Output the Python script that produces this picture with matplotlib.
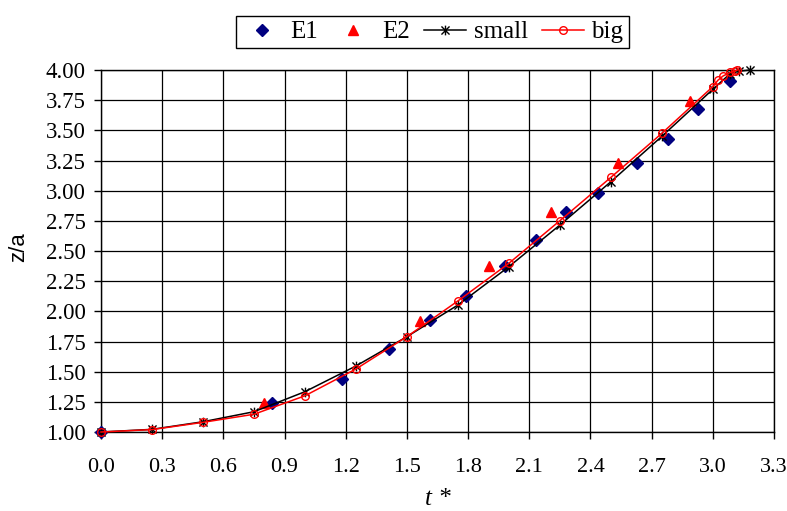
import matplotlib
matplotlib.use("Agg")
import matplotlib.pyplot as plt
from matplotlib.path import Path

# ---- data ----
e1_t = [0.0, 0.84, 1.18, 1.41, 1.613, 1.79, 1.98, 2.132, 2.28, 2.435, 2.626, 2.778, 2.928, 3.083]
e1_z = [1.0, 1.243, 1.44, 1.688, 1.928, 2.13, 2.378, 2.591, 2.826, 2.983, 3.232, 3.425, 3.677, 3.906]

e2_t = [0.80, 1.564, 1.904, 2.206, 2.533, 2.887]
e2_z = [1.237, 1.922, 2.376, 2.82, 3.227, 3.745]

small_t = [0.0, 0.25, 0.5, 0.75, 1.0, 1.25, 1.5, 1.75, 2.0, 2.25, 2.5, 2.75, 3.0, 3.085, 3.13, 3.18]
small_z = [1.0, 1.022, 1.085, 1.168, 1.334, 1.547, 1.79, 2.052, 2.37, 2.715, 3.074, 3.45, 3.84, 3.97, 3.99, 4.0]

big_t = [0.0, 0.25, 0.5, 0.75, 1.0, 1.25, 1.5, 1.75, 2.0, 2.25, 2.5, 2.75, 3.0, 3.025, 3.05, 3.085, 3.107, 3.12]
big_z = [1.0, 1.02, 1.08, 1.147, 1.30, 1.522, 1.79, 2.086, 2.398, 2.751, 3.11, 3.475, 3.862, 3.915, 3.95, 3.98, 3.99, 4.0]

xticks = [0.0, 0.3, 0.6, 0.9, 1.2, 1.5, 1.8, 2.1, 2.4, 2.7, 3.0, 3.3]
yticks = [1.00, 1.25, 1.50, 1.75, 2.00, 2.25, 2.50, 2.75, 3.00, 3.25, 3.50, 3.75, 4.00]

serif = "Liberation Serif"

star = Path([(-1, -1), (1, 1), (-1, 1), (1, -1), (0, -1.2), (0, 1.2)],
            [Path.MOVETO, Path.LINETO, Path.MOVETO, Path.LINETO, Path.MOVETO, Path.LINETO])

fig = plt.figure(figsize=(7.87, 5.11), dpi=100)
ax = fig.add_axes([101/787, 79/511, 673/787, 362/511])

ax.plot(e1_t, e1_z, linestyle="none", marker="D", color="#000080", markersize=6.5,
        label="E1", clip_on=False, zorder=3)
ax.plot(e2_t, e2_z, linestyle="none", marker="^", color="#ff0000", markersize=7,
        label="E2", clip_on=False, zorder=3)
ax.plot(small_t, small_z, color="black", lw=1.1, marker=star, markersize=7, mew=1.0,
        label="small", clip_on=False, zorder=4)
ax.plot(big_t, big_z, color="#ff0000", lw=1.1, marker="o", markersize=5.5, mfc="none",
        mew=1.0, label="big", clip_on=False, zorder=5)

ax.set_xlim(0, 3.3)
ax.set_ylim(1.0, 4.0)
ax.set_xticks(xticks)
ax.set_yticks(yticks)
ax.set_xticklabels([f"{v:.1f}" for v in xticks], fontfamily=serif, fontsize=16)
ax.set_yticklabels([f"{v:.2f}" for v in yticks], fontfamily=serif, fontsize=16.5)
ax.tick_params(direction="out", length=5, width=1, color="black")
ax.tick_params(axis="x", pad=13.5)
ax.tick_params(axis="y", pad=6)
ax.grid(True, color="black", lw=0.9)
ax.set_axisbelow(True)
for s in ax.spines.values():
    s.set_color("black")
    s.set_linewidth(1)

ax.set_ylabel("z/a", fontfamily="Liberation Sans", fontsize=16, labelpad=12)
ax.yaxis.label.set_y(0.511)
ax.set_xlabel("t *", fontfamily=serif, fontstyle="italic", fontsize=18, labelpad=8)

leg = fig.legend(loc="center", bbox_to_anchor=(0.549, 0.937), ncol=4,
                 prop={"family": serif, "size": 18}, frameon=True, fancybox=False,
                 edgecolor="black", framealpha=1, borderpad=0.2, handlelength=1.7,
                 handletextpad=0.3, columnspacing=0.55, borderaxespad=0)
leg.get_frame().set_linewidth(1)

fig.savefig("out.png", dpi=100)
